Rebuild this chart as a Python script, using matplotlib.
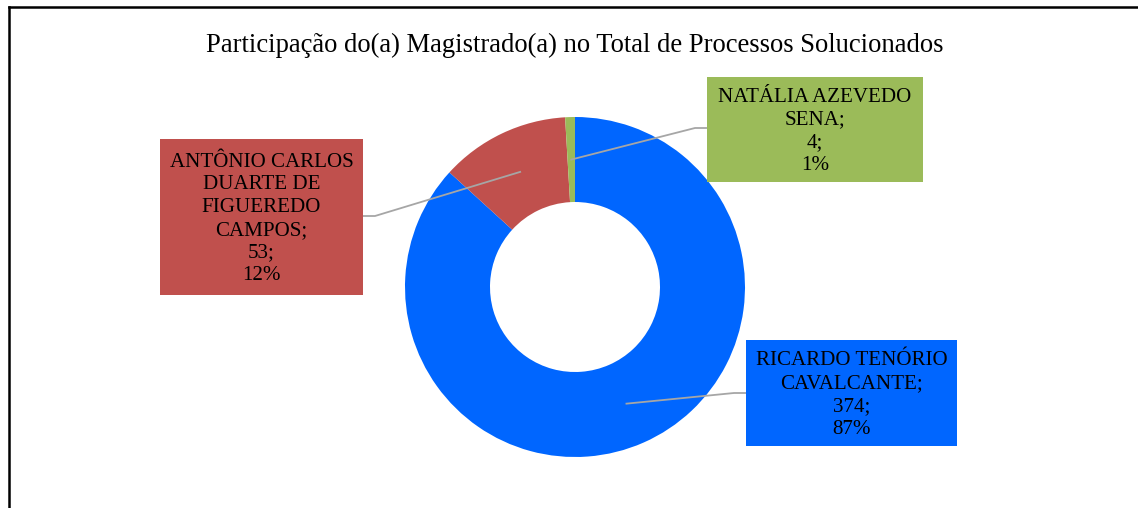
import matplotlib.pyplot as plt
import numpy as np
from matplotlib.patches import Rectangle
from matplotlib.lines import Line2D

# Data
magistrados = ['RICARDO TENÓRIO\nCAVALCANTE', 'ANTÔNIO CARLOS\nDUARTE DE\nFIGUEREDO\nCAMPOS',
               'NATÁLIA AZEVEDO\nSENA']
processos = [374, 53, 4]
cores = ['#0066FF', '#C0504D', '#9BBB59']

# Layout (pixel-like data coords, y up)
W, H = 1138, 508
centro = (575, H - 287)
raio = 170
# label boxes: (x0, y0_top_pixel, width, height), leader elbow y (pixel)
caixas = [(746, 340, 211, 106), (160, 139, 203, 156), (707, 77, 216, 105)]
cotovelos = [393, 216, 128]

plt.rcParams['font.family'] = ['Liberation Serif', 'DejaVu Serif']

fig = plt.figure(figsize=(W / 100, H / 100), dpi=100)
ax = fig.add_axes([0, 0, 1, 1])

wedges, _ = ax.pie(processos, colors=cores, startangle=90, counterclock=False,
                   center=centro, radius=raio, frame=True,
                   wedgeprops=dict(width=raio * 0.5, linewidth=0))
ax.set_xlim(0, W)
ax.set_ylim(0, H)
ax.set_aspect('equal')
ax.axis('off')

total = sum(processos)
for w, nome, n, cor, (bx, by, bw, bh), cy in zip(wedges, magistrados, processos, cores,
                                                 caixas, cotovelos):
    # label box
    y0 = H - by - bh
    ax.add_patch(Rectangle((bx, y0), bw, bh, facecolor=cor, edgecolor='none', zorder=3))
    texto = f"{nome};\n{n};\n{n / total:.0%}"
    ax.text(bx + bw / 2, y0 + bh / 2 - 2, texto, ha='center', va='center', fontsize=15.1,
            linespacing=1.27, color='black', zorder=4)
    # leader line from middle of the ring
    ang = np.deg2rad((w.theta1 + w.theta2) / 2)
    r = raio * 0.75
    sx, sy = centro[0] + r * np.cos(ang), centro[1] + r * np.sin(ang)
    if bx > centro[0]:
        ex, kx = bx, bx - 12
    else:
        ex = bx + bw
        kx = ex + 12
    ey = H - cy
    ax.plot([sx, kx, ex], [sy, ey, ey], color='#A6A6A6', linewidth=1.3, zorder=2)

ax.text(575, H - 45, 'Participação do(a) Magistrado(a) no Total de Processos Solucionados',
        ha='center', va='center', fontsize=19.2, color='black')

# outer frame (left and top edges visible)
fig.add_artist(Line2D([8.5 / W, 8.5 / W], [0, 1 - 7 / H], color='black', linewidth=1.8))
fig.add_artist(Line2D([8.5 / W, 1], [1 - 7 / H, 1 - 7 / H], color='black', linewidth=1.8))

fig.savefig('out.png', dpi=100, facecolor='white')
